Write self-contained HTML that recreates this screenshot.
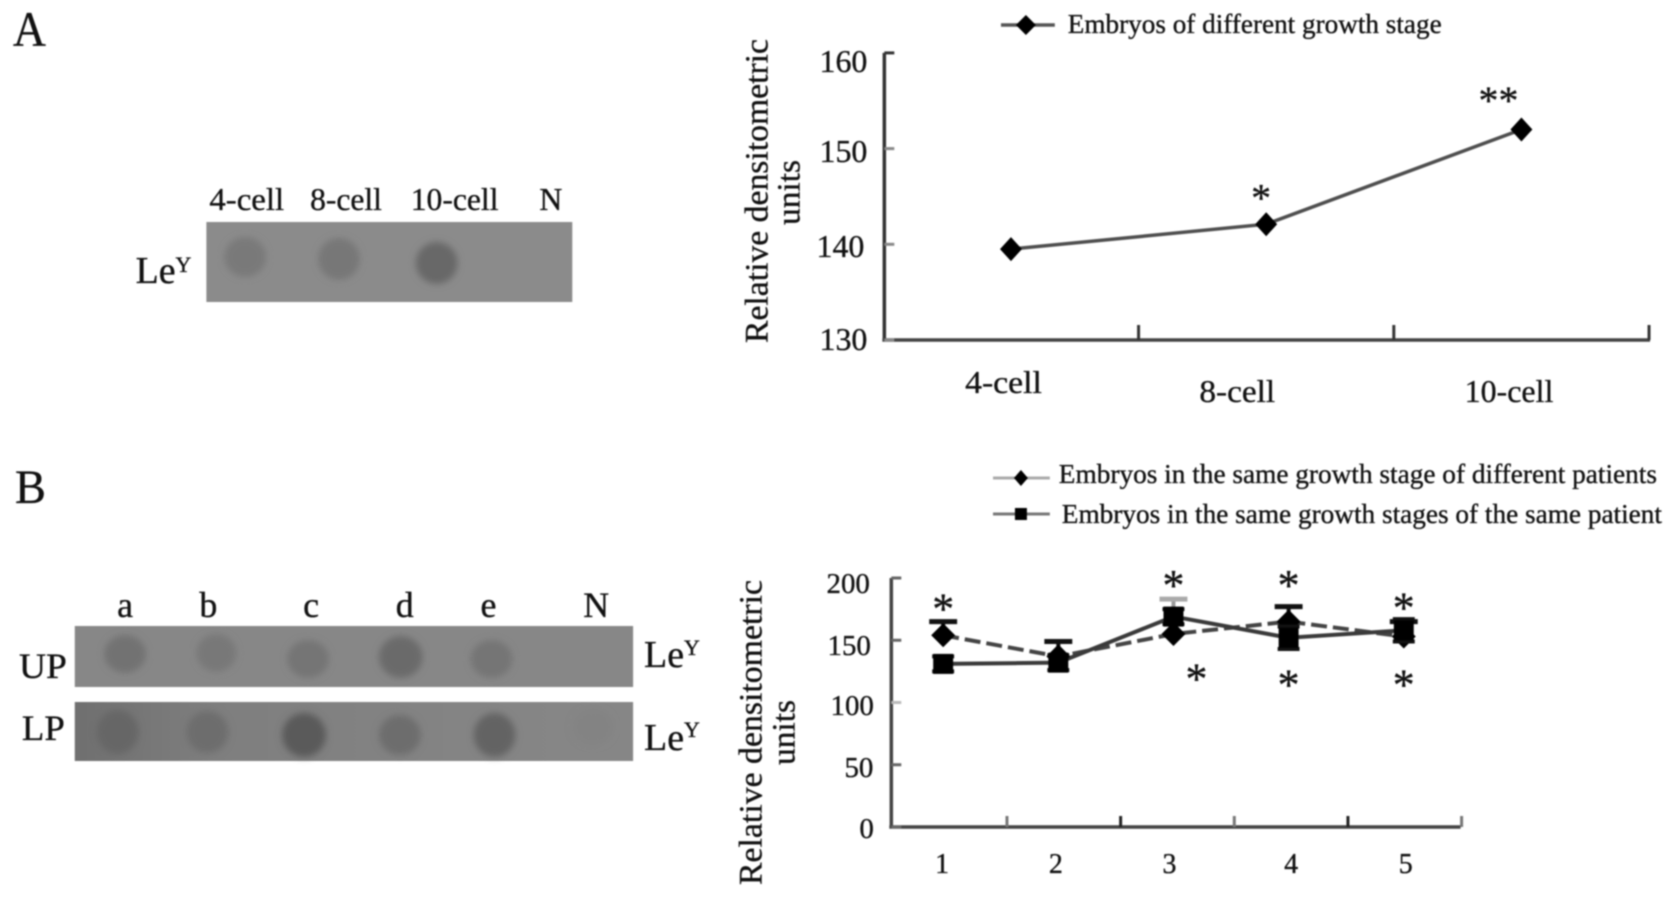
<!DOCTYPE html>
<html lang="en">
<head>
<meta charset="utf-8">
<title>LeY expression in embryos</title>
<style>
html,body{margin:0;padding:0;background:#fff;}
svg{display:block;filter:blur(0.9px);font-family:"Liberation Serif",serif;}
text{fill:#111;stroke:#111;stroke-width:0.35px;}
</style>
</head>
<body>
<svg id="figure" xmlns="http://www.w3.org/2000/svg" width="1677" height="899" viewBox="0 0 1677 899">
<defs>
<filter id="soft" x="-40%" y="-40%" width="180%" height="180%"><feGaussianBlur stdDeviation="3.5"/></filter>
<linearGradient id="lp-fill" x1="0" x2="1" y1="0" y2="0">
<stop offset="0" stop-color="#6f6f6f"/><stop offset="0.25" stop-color="#7e7e7e"/><stop offset="0.8" stop-color="#858585"/><stop offset="1" stop-color="#868686"/>
</linearGradient>
</defs>
<rect width="1677" height="899" fill="#fff"/>
<g transform="scale(0.997 1)">

<!-- Panel A blot -->
<text x="13" y="46" font-size="50" textLength="33" lengthAdjust="spacingAndGlyphs">A</text>
<g font-size="32">
<text x="210" y="210" textLength="75" lengthAdjust="spacingAndGlyphs">4-cell</text>
<text x="311" y="210" textLength="72" lengthAdjust="spacingAndGlyphs">8-cell</text>
<text x="412" y="210" textLength="88" lengthAdjust="spacingAndGlyphs">10-cell</text>
<text x="541" y="210" textLength="23" lengthAdjust="spacingAndGlyphs">N</text>
</g>
<text x="136" y="283" font-size="38">Le<tspan font-size="22" dy="-11">Y</tspan></text>
<g>
<rect x="207" y="222" width="367" height="80" fill="#8b8b8b"/>
<ellipse cx="246" cy="257" rx="21" ry="20" fill="#797979" filter="url(#soft)"/>
<ellipse cx="340" cy="259" rx="21" ry="21" fill="#777" filter="url(#soft)"/>
<ellipse cx="438" cy="263" rx="21" ry="21" fill="#676767" filter="url(#soft)"/>
</g>

<!-- Panel A chart -->
<g id="chart-a">
<line x1="1004" y1="25" x2="1058" y2="25" stroke="#555" stroke-width="3.5"/>
<polygon points="1029,15 1039,25 1029,35 1019,25" fill="#000"/>
<text x="1071" y="33" font-size="27" textLength="375" lengthAdjust="spacingAndGlyphs">Embryos of different growth stage</text>
<text transform="translate(770,343) rotate(-90)" font-size="33" textLength="304" lengthAdjust="spacingAndGlyphs">Relative densitometric</text>
<text transform="translate(802,225) rotate(-90)" font-size="33" textLength="65" lengthAdjust="spacingAndGlyphs">units</text>
<text x="822" y="72" font-size="32">160</text>
<text x="822" y="162" font-size="32">150</text>
<text x="819" y="257" font-size="32">140</text>
<text x="822" y="350" font-size="32">130</text>
<text x="968" y="393" font-size="32" textLength="77" lengthAdjust="spacingAndGlyphs">4-cell</text>
<text x="1203" y="402" font-size="32" textLength="76" lengthAdjust="spacingAndGlyphs">8-cell</text>
<text x="1469" y="402" font-size="32" textLength="89" lengthAdjust="spacingAndGlyphs">10-cell</text>
</g>

<!-- Panel B blots -->
<text x="15" y="503" font-size="48" textLength="31" lengthAdjust="spacingAndGlyphs">B</text>
<g font-size="36">
<text x="125.5" y="617" text-anchor="middle">a</text>
<text x="209" y="617" text-anchor="middle">b</text>
<text x="312" y="617" text-anchor="middle">c</text>
<text x="406" y="617" text-anchor="middle">d</text>
<text x="490" y="617" text-anchor="middle">e</text>
<text x="598" y="617" text-anchor="middle">N</text>
<text x="19" y="678" textLength="48" lengthAdjust="spacingAndGlyphs">UP</text>
<text x="22" y="740" textLength="43" lengthAdjust="spacingAndGlyphs">LP</text>
</g>
<text x="646" y="667" font-size="38">Le<tspan font-size="22" dy="-12">Y</tspan></text>
<text x="646" y="750" font-size="38">Le<tspan font-size="22" dy="-13">Y</tspan></text>
<g>
<rect x="75" y="626" width="560" height="61" fill="#878787"/>
<ellipse cx="125.5" cy="654" rx="21" ry="19" fill="#727272" filter="url(#soft)"/>
<ellipse cx="217" cy="653" rx="20" ry="19" fill="#787878" filter="url(#soft)"/>
<ellipse cx="309" cy="659" rx="21" ry="19" fill="#747474" filter="url(#soft)"/>
<ellipse cx="402" cy="657" rx="22" ry="21" fill="#6b6b6b" filter="url(#soft)"/>
<ellipse cx="493" cy="659" rx="21" ry="19" fill="#757575" filter="url(#soft)"/>
</g>
<g>
<rect x="75" y="702" width="560" height="59" fill="url(#lp-fill)"/>
<ellipse cx="118" cy="732" rx="21" ry="22" fill="#666" filter="url(#soft)"/>
<ellipse cx="208" cy="732" rx="21" ry="21" fill="#6d6d6d" filter="url(#soft)"/>
<ellipse cx="305" cy="735" rx="22" ry="22" fill="#5a5a5a" filter="url(#soft)"/>
<ellipse cx="401" cy="735" rx="21" ry="20" fill="#6d6d6d" filter="url(#soft)"/>
<ellipse cx="496" cy="735" rx="21" ry="22" fill="#646464" filter="url(#soft)"/>
<ellipse cx="595" cy="727" rx="20" ry="18" fill="#838383" filter="url(#soft)"/>
</g>

<!-- Panel B chart -->
<g id="chart-b">
<line x1="996" y1="478" x2="1053" y2="478" stroke="#aaa" stroke-width="3"/>
<polygon points="1024,470 1031,478 1024,486 1017,478" fill="#000"/>
<text x="1062" y="483" font-size="27" textLength="600" lengthAdjust="spacingAndGlyphs">Embryos in the same growth stage of different patients</text>
<line x1="996" y1="514" x2="1053" y2="514" stroke="#777" stroke-width="3"/>
<rect x="1018" y="508" width="12" height="12" fill="#000"/>
<text x="1065" y="523" font-size="27" textLength="602" lengthAdjust="spacingAndGlyphs">Embryos in the same growth stages of the same patient</text>
<text transform="translate(764,885) rotate(-90)" font-size="33" textLength="305" lengthAdjust="spacingAndGlyphs">Relative densitometric</text>
<text transform="translate(797,765) rotate(-90)" font-size="33" textLength="65" lengthAdjust="spacingAndGlyphs">units</text>
<text x="829" y="593" font-size="29">200</text>
<text x="830" y="655" font-size="29">150</text>
<text x="833" y="715" font-size="29">100</text>
<text x="847" y="777" font-size="29">50</text>
<text x="862" y="838" font-size="29">0</text>
<text x="945" y="873" font-size="28" text-anchor="middle">1</text>
<text x="1059" y="873" font-size="28" text-anchor="middle">2</text>
<text x="1173" y="873" font-size="28" text-anchor="middle">3</text>
<text x="1295" y="873" font-size="28" text-anchor="middle">4</text>
<text x="1410" y="873" font-size="28" text-anchor="middle">5</text>
</g>
</g>
</svg>

<script>
const stageCategories = ['4-cell', '8-cell', '10-cell'];
const stageValues = [139.5, 142.1, 152];
const stageTicks = [130, 140, 150, 160];
const stageStarLabels = ['*', '**'];
const stageStarPlaces = [0.98, 1.91];
const stageStarLevels = [145.4, 155.6];

const patientCategories = ['1', '2', '3', '4', '5'];
const differentPatientValues = [154, 137, 155, 165, 153];
const differentPatientErrors = [11, 12, 28, 12, 12];
const samePatientValues = [131, 132, 169, 152, 158];
const samePatientErrors = [6, 6, 6, 9, 9];
const patientTicks = [0, 50, 100, 150, 200];
const upperStarPlaces = [0, 2, 3, 4];
const upperStarLevels = [180, 199, 199, 181];
const lowerStarPlaces = [2.2, 3, 4];
const lowerStarLevels = [124, 119, 119];

const SVG_NS = 'http://www.w3.org/2000/svg';
const chartA = document.getElementById('chart-a');
const chartB = document.getElementById('chart-b');

function stageX(i) { return 1014 + 256 * i; }
function stageY(v) { return 340 - (v - 130) * 9.57; }
function patientX(i) { return 946 + 115.5 * i; }
function patientY(v) { return 827 - v * 1.245; }

function make(parent, tag, attrs) {
  const el = document.createElementNS(SVG_NS, tag);
  Object.keys(attrs).forEach(function (k) { el.setAttribute(k, attrs[k]); });
  parent.appendChild(el);
  return el;
}
function seg(parent, x1, y1, x2, y2, stroke, width, dash) {
  const attrs = { x1: x1, y1: y1, x2: x2, y2: y2, stroke: stroke, 'stroke-width': width };
  if (dash) attrs['stroke-dasharray'] = dash;
  return make(parent, 'line', attrs);
}
function diamond(parent, x, y, hw, hh) {
  return make(parent, 'polygon', {
    points: x + ',' + (y - hh) + ' ' + (x + hw) + ',' + y + ' ' + x + ',' + (y + hh) + ' ' + (x - hw) + ',' + y,
    fill: '#000'
  });
}
function star(parent, x, y, label, size) {
  const el = make(parent, 'text', { x: x, y: y + size * 0.47, 'font-size': size, 'text-anchor': 'middle' });
  el.textContent = label;
  return el;
}

/* Chart A axes */
const axisAY = seg(chartA, 887, stageY(160), 887, stageY(130) + 1, '#333', 3.5);


const axisAX = seg(chartA, 885, 340, 1655, 340, '#444', 3.5);


stageTicks.forEach(function (t) {
  const tick = seg(chartA, 887, stageY(t), 897, stageY(t), t === 160 ? '#333' : '#888', 3);
  
  
});
stageCategories.forEach(function (c, i) {
  const x = stageX(i) + 128;
  const tick = seg(chartA, x, 325, x, 340, '#333', 3);
  
  
});

/* Chart A series */
const stagePath = make(chartA, 'polyline', {
  points: stageValues.map(function (v, i) { return stageX(i) + ',' + stageY(v); }).join(' '),
  fill: 'none', stroke: '#4e4e4e', 'stroke-width': 3.5
});


stageValues.forEach(function (v, i) {
  const d = diamond(chartA, stageX(i), stageY(v), 11, 12);
  
  
});
stageStarLabels.forEach(function (s, i) {
  const t = star(chartA, stageX(stageStarPlaces[i]), stageY(stageStarLevels[i]), s, 40);
  
  
});

/* Chart B axes */
const axisBY = seg(chartB, 894, patientY(200), 894, patientY(0) + 1, '#444', 3.5);


const axisBX = seg(chartB, 892, 827, 1465, 827, '#444', 3.5);


patientTicks.forEach(function (t) {
  const tick = seg(chartB, 894, patientY(t), 904, patientY(t), t === 100 ? '#bbb' : '#666', 3);
  
  
});
patientCategories.forEach(function (c, i) {
  const x = 1010 + 114 * i;
  const tick = seg(chartB, x, 816, x, 827, i === 1 || i === 3 ? '#222' : '#777', 3);
  
  
});

/* Chart B series: different patients */
const diffPath = make(chartB, 'polyline', {
  points: differentPatientValues.map(function (v, i) { return patientX(i) + ',' + patientY(v); }).join(' '),
  fill: 'none', stroke: '#444', 'stroke-width': 4, 'stroke-dasharray': '16 6'
});


/* Chart B series: same patient */
const samePath = make(chartB, 'polyline', {
  points: samePatientValues.map(function (v, i) { return patientX(i) + ',' + patientY(v); }).join(' '),
  fill: 'none', stroke: '#3a3a3a', 'stroke-width': 4
});



differentPatientValues.forEach(function (v, i) {
  const x = patientX(i);
  const top = patientY(v + differentPatientErrors[i]);
  const stem = seg(chartB, x, top, x, patientY(v), i === 2 ? '#999' : '#111', 4);
  
  
  const cap = seg(chartB, x - 14, top, x + 14, top, i === 2 ? '#aaa' : '#111', 5);
  
  
  const d = diamond(chartB, x, patientY(v), 12, 12);
  
  
});
samePatientValues.forEach(function (v, i) {
  const x = patientX(i);
  const top = patientY(v + samePatientErrors[i]);
  const bottom = patientY(v - samePatientErrors[i]);
  const stem = seg(chartB, x, top, x, bottom, '#000', 18);
  
  
  const capT = seg(chartB, x - 11, top, x + 11, top, '#111', 4);
  
  
  const capB = seg(chartB, x - 11, bottom, x + 11, bottom, '#111', 4);
  
  
  const sq = make(chartB, 'rect', { x: x - 10, y: patientY(v) - 10, width: 20, height: 20, fill: '#000' });
  
  
});
upperStarPlaces.forEach(function (p, i) {
  const t = star(chartB, patientX(p), patientY(upperStarLevels[i]), '*', 44);
  
  
});
lowerStarPlaces.forEach(function (p, i) {
  const t = star(chartB, patientX(p), patientY(lowerStarLevels[i]), '*', 44);
  
  
});
</script>
</body>
</html>
